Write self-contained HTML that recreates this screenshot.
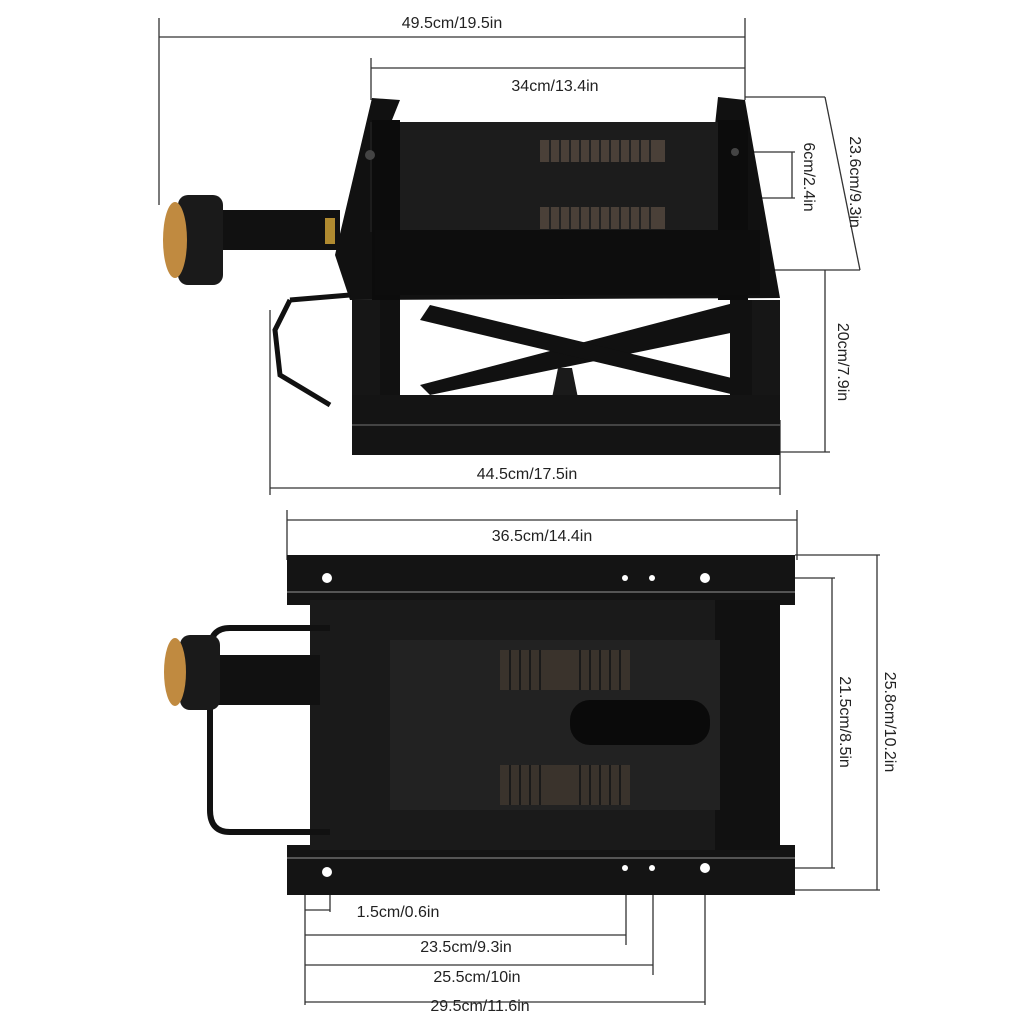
<!DOCTYPE html>
<html><head><meta charset="utf-8"><style>
html,body{margin:0;padding:0;background:#fff;}
svg{display:block}
text{font-family:"Liberation Sans",sans-serif;font-size:16px;fill:#222}
</style></head><body>
<svg width="1024" height="1024" viewBox="0 0 1024 1024" xmlns="http://www.w3.org/2000/svg">
<g stroke="#333" stroke-width="1.3" fill="none">
<line x1="159" y1="37" x2="745" y2="37"/>
<line x1="159" y1="18" x2="159" y2="205"/>
<line x1="745" y1="18" x2="745" y2="100"/>
<line x1="371" y1="68" x2="745" y2="68"/>
<line x1="371" y1="58" x2="371" y2="100"/>
<line x1="745" y1="97" x2="825" y2="97"/>
<line x1="825" y1="97" x2="860" y2="270"/>
<line x1="770" y1="270" x2="860" y2="270"/>
<line x1="750" y1="152" x2="795" y2="152"/>
<line x1="750" y1="198" x2="795" y2="198"/>
<line x1="792" y1="152" x2="792" y2="198"/>
<line x1="825" y1="270" x2="825" y2="452"/>
<line x1="770" y1="452" x2="830" y2="452"/>
<line x1="270" y1="488" x2="780" y2="488"/>
<line x1="270" y1="310" x2="270" y2="495"/>
<line x1="780" y1="420" x2="780" y2="495"/>
<line x1="287" y1="520" x2="797" y2="520"/>
<line x1="287" y1="510" x2="287" y2="560"/>
<line x1="797" y1="510" x2="797" y2="560"/>
<line x1="795" y1="555" x2="880" y2="555"/>
<line x1="877" y1="555" x2="877" y2="890"/>
<line x1="795" y1="890" x2="880" y2="890"/>
<line x1="795" y1="578" x2="835" y2="578"/>
<line x1="832" y1="578" x2="832" y2="868"/>
<line x1="795" y1="868" x2="835" y2="868"/>
<line x1="305" y1="880" x2="305" y2="1005"/>
<line x1="330" y1="880" x2="330" y2="912"/>
<line x1="305" y1="910" x2="330" y2="910"/>
<line x1="626" y1="870" x2="626" y2="945"/>
<line x1="305" y1="935" x2="626" y2="935"/>
<line x1="653" y1="870" x2="653" y2="975"/>
<line x1="305" y1="965" x2="653" y2="965"/>
<line x1="705" y1="870" x2="705" y2="1005"/>
<line x1="305" y1="1002" x2="705" y2="1002"/>
</g>
<text x="452" y="28" text-anchor="middle">49.5cm/19.5in</text>
<text x="555" y="91" text-anchor="middle">34cm/13.4in</text>
<text x="527" y="479" text-anchor="middle">44.5cm/17.5in</text>
<text x="542" y="541" text-anchor="middle">36.5cm/14.4in</text>
<text x="398" y="917" text-anchor="middle">1.5cm/0.6in</text>
<text x="466" y="952" text-anchor="middle">23.5cm/9.3in</text>
<text x="477" y="982" text-anchor="middle">25.5cm/10in</text>
<text x="480" y="1011" text-anchor="middle">29.5cm/11.6in</text>
<text transform="translate(850,182) rotate(90)" text-anchor="middle">23.6cm/9.3in</text>
<text transform="translate(804,177) rotate(90)" text-anchor="middle" font-size="15">6cm/2.4in</text>
<text transform="translate(838,362) rotate(90)" text-anchor="middle">20cm/7.9in</text>
<text transform="translate(885,722) rotate(90)" text-anchor="middle">25.8cm/10.2in</text>
<text transform="translate(840,722) rotate(90)" text-anchor="middle">21.5cm/8.5in</text>

<g>
<polygon points="335,255 372,98 400,100 390,125 715,125 718,97 745,100 780,298 350,300" fill="#111"/>
<rect x="370" y="122" width="360" height="110" fill="#1c1c1c"/>
<rect x="372" y="120" width="28" height="180" fill="#0c0c0c"/>
<rect x="718" y="120" width="30" height="180" fill="#0c0c0c"/>
<rect x="375" y="230" width="385" height="65" fill="#0d0d0d"/>
<rect x="352" y="300" width="428" height="155" fill="#161616"/>
<rect x="380" y="300" width="370" height="100" fill="#fff"/>
<polygon points="420,385 745,300 745,330 430,395" fill="#111"/>
<polygon points="430,305 740,380 735,395 420,320" fill="#111"/>
<rect x="380" y="300" width="20" height="100" fill="#111"/>
<rect x="730" y="300" width="22" height="100" fill="#111"/>
<path d="M552,398 L558,368 L572,368 L578,398 Z" fill="#1a1a1a"/>
<rect x="352" y="395" width="428" height="60" fill="#141414"/>
<line x1="352" y1="425" x2="780" y2="425" stroke="#444" stroke-width="2"/>
<rect x="540" y="140" width="125" height="22" fill="#4a4038"/>
<rect x="540" y="207" width="125" height="22" fill="#4a4038"/>
<g stroke="#222" stroke-width="2">
<path d="M550,140v22M560,140v22M570,140v22M580,140v22M590,140v22M600,140v22M610,140v22M620,140v22M630,140v22M640,140v22M650,140v22"/>
<path d="M550,207v22M560,207v22M570,207v22M580,207v22M590,207v22M600,207v22M610,207v22M620,207v22M630,207v22M640,207v22M650,207v22"/>
</g>
<circle cx="370" cy="155" r="5" fill="#444"/><circle cx="735" cy="152" r="4" fill="#444"/>
<path d="M290,300 L275,330 L280,375 L330,405" stroke="#111" stroke-width="5" fill="none"/>
<path d="M290,300 L350,295" stroke="#111" stroke-width="5"/>
<rect x="205" y="210" width="135" height="40" fill="#111"/>
<rect x="325" y="218" width="10" height="26" fill="#b08a30"/>
<rect x="178" y="195" width="45" height="90" rx="10" fill="#1a1a1a"/>
<ellipse cx="175" cy="240" rx="12" ry="38" fill="#c08a40"/>
</g>

<g>
<rect x="287" y="555" width="508" height="50" fill="#141414"/>
<rect x="287" y="845" width="508" height="50" fill="#141414"/>
<line x1="287" y1="592" x2="795" y2="592" stroke="#555" stroke-width="2"/>
<line x1="287" y1="858" x2="795" y2="858" stroke="#555" stroke-width="2"/>
<rect x="310" y="600" width="420" height="250" fill="#1a1a1a"/>
<rect x="715" y="600" width="65" height="250" fill="#111"/>
<rect x="390" y="640" width="330" height="170" fill="#222"/>
<rect x="500" y="650" width="130" height="40" fill="#3a332c"/>
<rect x="500" y="765" width="130" height="40" fill="#3a332c"/>
<g stroke="#1a1a1a" stroke-width="2">
<path d="M510,650v40M520,650v40M530,650v40M540,650v40M580,650v40M590,650v40M600,650v40M610,650v40M620,650v40"/>
<path d="M510,765v40M520,765v40M530,765v40M540,765v40M580,765v40M590,765v40M600,765v40M610,765v40M620,765v40"/>
</g>
<rect x="570" y="700" width="140" height="45" rx="20" fill="#0a0a0a"/>
<path d="M330,628 L230,628 Q210,628 210,650 L210,810 Q210,832 230,832 L330,832" stroke="#111" stroke-width="6" fill="none"/>
<rect x="205" y="655" width="115" height="50" fill="#111"/>
<rect x="180" y="635" width="40" height="75" rx="10" fill="#1a1a1a"/>
<ellipse cx="175" cy="672" rx="11" ry="34" fill="#c08a40"/>
<g fill="#fff">
<circle cx="327" cy="578" r="5"/><circle cx="625" cy="578" r="3"/><circle cx="652" cy="578" r="3"/><circle cx="705" cy="578" r="5"/>
<circle cx="327" cy="872" r="5"/><circle cx="625" cy="868" r="3"/><circle cx="652" cy="868" r="3"/><circle cx="705" cy="868" r="5"/>
</g>
</g>
</svg>
</body></html>
